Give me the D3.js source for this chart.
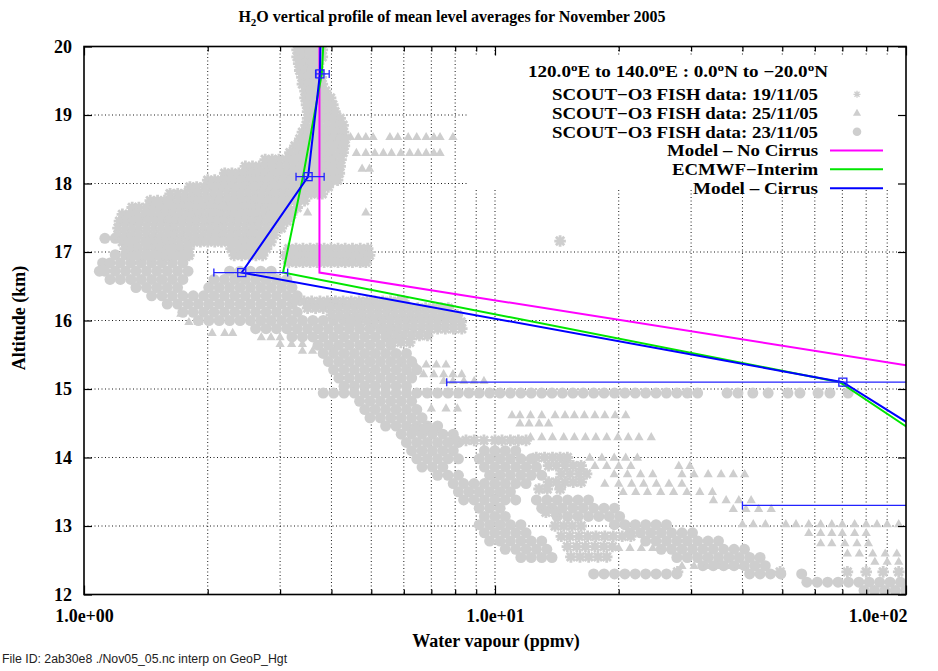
<!DOCTYPE html>
<html><head><meta charset="utf-8">
<script src="https://cdn.jsdelivr.net/npm/d3@7"></script>
<style>body{margin:0;background:#fff}svg{display:block}</style>
</head><body>
<svg id="c" width="938" height="671"></svg>
<script>
// ---------- data ----------
const xMajorTicks = [1, 10, 100];
const xMajorLabels = ["1.0e+00", "1.0e+01", "1.0e+02"];
const xMinorTicks = [2,3,4,5,6,7,8,9,20,30,40,50,60,70,80,90];
const yTicks = [12,13,14,15,16,17,18,19,20];

const levels        = [20, 19.6, 18.1, 16.7, 15.1, 13.3];
const modelNoCirrus = [3.74, 3.74, 3.74, 3.74, 182, null];
const ecmwfInterim  = [3.82, 3.79, 3.41, 3.05, 69, 194];
const modelCirrus   = [3.76, 3.75, 3.51, 2.42, 70.2, 211];
const cirrusErrLo   = [null, 3.66, 3.28, 2.07, 7.63, 40.0];
const cirrusErrHi   = [null, 3.95, 3.84, 3.13, 400, 600];

// FISH data, rows of [altitude km, [water vapour ppmv ...]]
const fish191105 = [
[19.95,[3.3,3.42,3.55,3.68,3.8]],
[19.85,[3.3,3.42,3.55,3.68,3.8]],
[19.75,[3.33,3.45,3.58,3.72]],
[19.65,[3.35,3.47,3.6,3.73]],
[19.55,[3.39,3.52,3.65,3.78]],
[19.45,[3.4,3.53,3.66,3.8]],
[19.35,[3.45,3.58,3.72,3.87]],
[19.25,[3.45,3.58,3.72,3.87,3.98]],
[19.15,[3.48,3.62,3.76,3.91,4.03]],
[19.05,[3.5,3.64,3.78,3.93,4.08]],
[18.95,[3.5,3.64,3.78,3.93,4.08,4.2]],
[18.85,[3.47,3.61,3.75,3.9,4.05,4.2,4.27]],
[18.75,[3.4,3.54,3.68,3.83,3.98,4.14,4.28]],
[18.65,[3.35,3.48,3.62,3.76,3.91,4.06,4.22,4.32]],
[18.55,[3.26,3.39,3.53,3.67,3.82,3.97,4.13,4.3]],
[18.45,[3.17,3.3,3.43,3.57,3.71,3.86,4.01,4.17,4.27]],
[18.35,[2.76,2.87,2.98,3.1,3.22,3.35,3.48,3.62,3.76,3.91,4.06,4.22]],
[18.25,[2.47,2.57,2.67,2.78,2.89,3.0,3.12,3.24,3.37,3.5,3.64,3.78,3.93,4.08,4.2]],
[18.15,[2.2,2.29,2.38,2.47,2.57,2.67,2.78,2.89,3.0,3.12,3.24,3.37,3.5,3.64,3.78,3.93,4.08,4.18]],
[18.05,[2.0,2.08,2.16,2.25,2.34,2.43,2.53,2.63,2.73,2.84,2.95,3.07,3.19,3.32,3.45,3.59,3.73,3.88,4.03,4.14]],
[17.95,[1.81,1.88,1.96,2.04,2.12,2.2,2.29,2.38,2.47,2.57,2.67,2.78,2.89,3.0,3.12,3.24,3.37,3.5,3.64,3.78,3.93]],
[17.85,[1.62,1.69,1.76,1.83,1.9,1.98,2.06,2.14,2.23,2.32,2.41,2.51,2.61,2.71,2.82,2.93,3.05,3.17,3.3,3.43,3.57,3.71,3.8]],
[17.75,[1.45,1.51,1.57,1.63,1.7,1.77,1.84,1.91,1.99,2.07,2.15,2.24,2.33,2.42,2.52,2.62,2.72,2.83,2.94,3.06,3.18,3.3,3.44]],
[17.65,[1.31,1.36,1.42,1.48,1.54,1.6,1.66,1.73,1.8,1.87,1.95,2.03,2.11,2.19,2.28,2.37,2.47,2.57,2.67,2.78,2.89,3.0,3.12,3.3]],
[17.55,[1.24,1.29,1.34,1.4,1.46,1.52,1.58,1.64,1.71,1.78,1.85,1.92,2.0,2.08,2.16,2.25,2.34,2.43,2.53,2.63,2.74,2.85,2.96,3.08,3.2]],
[17.45,[1.22,1.27,1.32,1.37,1.43,1.49,1.55,1.61,1.67,1.74,1.81,1.88,1.96,2.04,2.12,2.2,2.29,2.38,2.48,2.58,2.68,2.79,2.9,3.02,3.12]],
[17.35,[1.21,1.26,1.31,1.36,1.42,1.48,1.54,1.6,1.66,1.73,1.8,1.87,1.95,2.03,2.11,2.19,2.28,2.37,2.47,2.57,2.67,2.78,2.9,3.02]],
[17.25,[1.21,1.26,1.31,1.36,1.42,1.48,1.54,1.6,1.66,1.73,1.8,1.87,1.95,2.03,2.11,2.19,2.28,2.37,2.47,2.57,2.67,2.78,2.9]],
[17.15,[1.24,1.29,1.34,1.4,1.46,1.52,1.58,1.64,1.71,1.78,1.85,1.92,2.0,2.08,2.16,2.25,2.34,2.43,2.53,2.63,2.74,2.85]],
[17.16,[14.4]],
[17.05,[1.26,1.31,1.36,1.42,1.48,1.54,1.6,1.66,1.73,1.8,2.28,2.37,2.47,2.57,2.67,2.78,3.15,3.28,3.41,3.55,3.69,3.84,3.99,4.15,4.32,4.5,4.7,4.9]],
[16.95,[1.3,1.35,1.41,1.47,1.53,1.59,1.65,1.72,1.8,2.32,2.42,2.52,2.62,2.72,3.1,3.23,3.36,3.5,3.64,3.79,3.94,4.1,4.26,4.43,4.6,4.8,4.95]],
[16.85,[3.15,3.28,3.41,3.55,3.69,3.84,3.99,4.15,4.32,4.5,4.7,4.85]],
[16.28,[3.28,3.43,3.58,3.75,3.91,4.09,4.27,4.47,4.67,4.88,5.1,5.33,5.57,5.82,6.0]],
[16.18,[3.5,3.66,3.82,3.99,4.17,4.36,4.56,4.76,4.98,5.2,5.44,5.68,5.94,6.21,6.49,6.78,7.08,7.4,7.7]],
[16.08,[4.0,4.18,4.37,4.57,4.77,4.99,5.21,5.45,5.69,5.95,6.22,6.5,6.79,7.1,7.42,7.75,8.1]],
[15.98,[4.47,4.67,4.88,5.1,5.33,5.57,5.82,6.08,6.35,6.64,6.94,7.25,7.57,7.92,8.27]],
[15.88,[5.33,5.57,5.82,6.08,6.35,6.64,6.94,7.25,7.57,7.92,8.3]],
[15.78,[5.5,5.75,6.0,6.27,6.55,6.85]],
[15.68,[5.6,5.9,6.2]],
[14.42,[6.4,6.75,7.1]],
[14.25,[8.0,8.5,8.9,9.4,10.0,10.4,10.9,11.4,11.9]],
[14.0,[12.6,13.2,13.8,14.4,15.0]],
[13.88,[13.5,14.1,14.8,15.5,16.2]],
[13.76,[14.5,15.2,16.0,16.7]],
[13.64,[13.5,14.1,14.8,15.5,16.2]],
[13.54,[12.8,13.4,14.4]],
[13.2,[13.3,14.0]],
[13.0,[14.0,14.7,15.4,16.2]],
[12.85,[14.5,15.2,16.0,16.8,17.6,18.5,19.4,20.4,21.4]],
[12.7,[15.0,15.8,16.6,17.5,18.4,19.3]],
[12.55,[15.3,16.1,16.9,17.8,18.7]],
[12.33,[27.8,49.4,72,80,88,96]]
];

const fish251105 = [
[18.68,[4.45,4.65,4.85,5.05,5.55,5.8,6.15,6.45,6.8,7.1,7.35,7.9]],
[18.45,[4.6,4.85,5.1,5.35,5.6,5.9,6.2,6.5,6.8,7.1,7.35]],
[18.22,[4.75,4.95]],
[17.58,[3.12,3.5,4.85]],
[16.88,[3.12,3.3,3.5]],
[16.1,[1.72]],
[15.98,[1.8,1.9]],
[15.82,[2.05,2.2,2.3]],
[15.76,[2.7,2.85,3.0]],
[15.66,[3.0,3.2,3.4]],
[15.56,[3.4,3.6,3.8,4.05]],
[15.36,[6.0,6.4,6.8,7.2,7.6]],
[15.22,[6.3,6.7,7.1,7.5,7.9,8.3]],
[15.12,[7.5,7.9,8.4,8.9,9.4]],
[14.72,[6.4,7.0,7.6,8.1]],
[14.62,[11.0,11.5,12.2,13.0,14.0,14.8,15.6,16.5,17.5,18.5,19.6,20.8]],
[14.5,[11.5,12.1,12.8,13.5]],
[14.3,[12.2,13.0,13.8,14.7,15.6,16.6,17.6,18.7,19.9,21.1,22.4,24]],
[14.0,[17,18.2,19.5,20.8,22.2]],
[13.88,[17.5,18.7,20.0,21.4,28.0,29.8]],
[13.76,[19.5,21,22.6,24.2,28.5,30.5,33,35.5,38,40.5]],
[13.62,[18.5,20,21.5,23,24.7,26.5,28.5]],
[13.5,[20.5,22,23.5,25.3,27.2,29.3,31.5,33.8]],
[13.38,[34,36.5,39.2,42]],
[13.25,[38,40.8,43.8,47]],
[13.03,[40,42.5,45.5,51,54,58,62,66,70,75,80,85,90,96]],
[12.9,[58,62,66,70,75,80]],
[12.75,[62,66,71,76,81]],
[12.68,[20,21.3,22.7,24.2,25.7]],
[12.6,[72,77,83,89,95]],
[12.48,[84,90,96]],
[12.42,[28.5,30.5,32.7,35,37.5,40]]
];

const fish231105 = [
[17.2,[1.124,1.191]],
[16.96,[1.191,1.262,1.338,1.419,1.504,1.594,1.689,1.791]],
[16.84,[1.11,1.157,1.226,1.3,1.378,1.461,1.548,1.641,1.74]],
[16.72,[1.09,1.124,1.191,1.262,1.338,1.419,1.504,1.594,1.689,1.791,2.261,2.397,2.54,2.693,2.854]],
[16.6,[1.157,1.226,1.3,1.378,1.461,1.548,1.641,1.74,2.072,2.196,2.328,2.468,2.616,2.773,2.939,3.115]],
[16.48,[1.338,1.419,1.504,1.594,1.689,2.012,2.133,2.261,2.397,2.54,2.693,2.854,3.026,3.207]],
[16.36,[1.461,1.548,1.641,1.74,1.844,1.955,2.072,2.196,2.328,2.468,2.616,2.773,2.939,3.115,3.302]],
[16.24,[1.594,1.689,1.791,1.898,2.012,2.133,2.261,2.397,2.54,2.693,2.854,3.026,3.207]],
[16.12,[1.74,1.844,1.955,2.072,2.196,2.328,2.468,2.616,2.773,2.939,3.115,3.302]],
[16.0,[1.898,2.012,2.133,2.261,2.397,2.54,2.693,2.854,3.026,3.207,3.4,3.604,3.82,4.049,4.292,4.549]],
[15.88,[2.616,2.773,2.939,3.115,3.302,3.5,3.71,3.933,4.169,4.419,4.684,4.965,5.263,5.579]],
[15.76,[3.207,3.4,3.604,3.82,4.049,4.292,4.549,4.822,5.112,5.418]],
[15.64,[3.71,3.933,4.169,4.419,4.684,4.965,5.263,5.579]],
[15.52,[3.82,4.049,4.292,4.549,4.822,5.112,5.418,5.743,6.088]],
[15.4,[3.933,4.169,4.419,4.684,4.965,5.263,5.579,5.914,6.268]],
[15.28,[4.049,4.292,4.549,4.822,5.112,5.418,5.743,6.088,6.453]],
[15.16,[4.169,4.419,4.684,4.965,5.263,5.579,5.914,6.268]],
[15.04,[4.292,4.549,4.822,5.112,5.418,5.743,6.088]],
[14.94,[3.82,4.049,4.292,4.549,4.822,5.112,5.418,5.743,6.088,6.453,6.841,7.251,7.686,8.147,8.636,9.154,9.704,10.29,10.9,11.56,12.25,12.99,13.76,14.59,15.47,16.39,17.38,18.42,19.53,20.7,21.94,23.26,24.65,26.13,27.7,29.36,31.12,36.7,39.0,42.4,46.2,51.6,55.2,61.1,65.3,72.3]],
[14.82,[4.684,4.965,5.263,5.579,5.914,6.268]],
[14.7,[4.822,5.112,5.418,5.743,6.088,6.453]],
[14.58,[4.965,5.263,5.579,5.914,6.268,6.645]],
[14.46,[5.418,5.743,6.088,6.453,6.841,7.251]],
[14.34,[5.914,6.268,6.645,7.043,7.466,7.914]],
[14.22,[6.088,6.453,6.841,7.251,7.686,8.147]],
[14.1,[6.268,6.645,7.043,7.466,7.914,9.425,9.991,10.59,11.23]],
[13.98,[6.453,6.841,7.251,7.686,8.147,9.154,9.704,10.29,10.9,11.56,12.25]],
[13.86,[6.645,7.043,7.466,9.425,9.991,10.59,11.23,11.9,12.61]],
[13.74,[7.251,7.686,8.147,9.704,10.29,10.9,11.56,12.25,12.99]],
[13.62,[7.914,8.389,8.892,9.425,9.991,10.59,11.23,11.9]],
[13.5,[8.147,8.636,9.154,9.704,10.29,10.9]],
[13.38,[8.389,8.892,9.425,9.991,10.59,11.23,12.61,13.37,14.17,15.02,15.92,16.88]],
[13.26,[9.154,9.704,10.29,12.99,13.76,14.59,15.47,16.39,17.38,18.42,19.53]],
[13.14,[9.425,9.991,10.59,14.17,15.02,15.92,16.88,17.89,18.97,20.1]],
[13.02,[9.154,9.704,10.29,10.9,11.56,19.53,20.7,21.94,23.26,24.65,26.13]],
[12.9,[9.425,9.991,10.59,11.23,11.9,21.31,22.59,23.94,25.38,26.9,28.52,30.23]],
[12.78,[9.704,10.29,10.9,11.56,12.25,12.99,23.26,24.65,26.13,27.7,29.36,31.12,32.99,34.97]],
[12.66,[10.59,11.23,11.9,12.61,13.37,25.38,26.9,28.52,30.23,32.04,33.96,36.0,38.16,40.45]],
[12.54,[11.56,12.25,12.99,13.76,27.7,29.36,31.12,32.99,34.97,37.07,39.29,41.65,44.15]],
[12.42,[32.04,33.96,36.0,38.16,40.45,42.88,45.45]],
[12.3,[17.38,18.42,19.53,20.7,21.94,23.26,24.65,26.13,27.7,41.65,44.15,46.8,49.6,55.74]],
[12.18,[57.38,60.82,64.47,68.34,72.44,76.79,81.39,86.28,91.45,96.94]],
[12.06,[79.06,83.8,88.83,94.16,99.81]]
];

const legendTitle = ["120.0", "o", "E to 140.0", "o", "E : 0.0", "o", "N to \u221220.0", "o", "N"];
const seriesNames = ["SCOUT\u2212O3 FISH data: 19/11/05", "SCOUT\u2212O3 FISH data: 25/11/05", "SCOUT\u2212O3 FISH data: 23/11/05",
                     "Model \u2013 No Cirrus", "ECMWF\u2212Interim", "Model \u2013 Cirrus"];
const seriesNameWidths = [266, 266, 266, 151, 146, 125];

// ---------- drawing ----------
const svg = d3.select("#c");
const L = 84, R = 906, T = 46.5, B = 594.5;
const x = d3.scaleLog().domain([1, 100]).range([L, R]);
const y = d3.scaleLinear().domain([12, 20]).range([B, T]);
const GREY = "#cecece", BLUE = "#0000ff", GREEN = "#00e600", MAG = "#ff00ff";
const serif = "'Liberation Serif','Times New Roman',serif";

svg.append("defs").append("clipPath").attr("id", "clip")
  .append("rect").attr("x", L).attr("y", T).attr("width", R - L).attr("height", B - T);

// grid
const grid = svg.append("g").attr("stroke", "#000").attr("stroke-width", 0.9).attr("stroke-dasharray", "1,2.5");
grid.selectAll("line.v").data(xMinorTicks.concat([10])).join("line")
  .attr("x1", d => x(d)).attr("x2", d => x(d)).attr("y1", T).attr("y2", B);
grid.selectAll("line.h").data(yTicks.filter(d => d > 12 && d < 20)).join("line")
  .attr("x1", L).attr("x2", R).attr("y1", d => y(d)).attr("y2", d => y(d));

const flat = rows => rows.flatMap(([km, vals]) => vals.map(v => [v, km]));
const plot = svg.append("g").attr("clip-path", "url(#clip)");

function starPath(r) {
  const d = r * 0.72;
  return `M${-r},0L${r},0M0,${-r}L0,${r}M${-d},${-d}L${d},${d}M${-d},${d}L${d},${-d}`;
}
function triPath(s) { return `M0,${-s * 0.62}L${s * 0.58},${s * 0.4}L${-s * 0.58},${s * 0.4}Z`; }

plot.append("g").selectAll("circle").data(flat(fish231105)).join("circle")
  .attr("cx", d => x(d[0])).attr("cy", d => y(d[1])).attr("r", 5.5).attr("fill", GREY);
plot.append("g").selectAll("path").data(flat(fish251105)).join("path")
  .attr("transform", d => `translate(${x(d[0])},${y(d[1])})`).attr("d", triPath(8)).attr("fill", GREY);
plot.append("g").selectAll("path").data(flat(fish191105)).join("path")
  .attr("transform", d => `translate(${x(d[0])},${y(d[1])})`).attr("d", starPath(5.8))
  .attr("stroke", GREY).attr("stroke-width", 2.8).attr("fill", "none");

// model lines
const mk = arr => levels.map((l, i) => [arr[i], l]);
const line = d3.line().defined(d => d[0] != null).x(d => x(d[0])).y(d => y(d[1]));
plot.append("path").datum(mk(modelNoCirrus)).attr("d", line).attr("fill", "none").attr("stroke", MAG).attr("stroke-width", 2);
plot.append("path").datum(mk(ecmwfInterim)).attr("d", line).attr("fill", "none").attr("stroke", GREEN).attr("stroke-width", 2);
plot.append("path").datum(mk(modelCirrus)).attr("d", line).attr("fill", "none").attr("stroke", BLUE).attr("stroke-width", 2);

// error bars + squares
const eb = levels.map((l, i) => ({l, v: modelCirrus[i], lo: cirrusErrLo[i], hi: cirrusErrHi[i]})).filter(d => d.lo != null);
const ebg = plot.append("g").attr("stroke", "#2222ff").attr("stroke-width", 1.3).attr("fill", "none");
ebg.selectAll("line.b").data(eb).join("line").attr("x1", d => x(d.lo)).attr("x2", d => x(d.hi)).attr("y1", d => y(d.l)).attr("y2", d => y(d.l));
ebg.selectAll("line.lc").data(eb).join("line").attr("x1", d => x(d.lo)).attr("x2", d => x(d.lo)).attr("y1", d => y(d.l) - 4).attr("y2", d => y(d.l) + 4);
ebg.selectAll("line.hc").data(eb).join("line").attr("x1", d => x(d.hi)).attr("x2", d => x(d.hi)).attr("y1", d => y(d.l) - 4).attr("y2", d => y(d.l) + 4);
ebg.selectAll("rect").data(eb).join("rect").attr("x", d => x(d.v) - 4).attr("y", d => y(d.l) - 4).attr("width", 8).attr("height", 8);

// legend (opaque key)
svg.append("rect").attr("x", 467).attr("y", 55).attr("width", R - 467).attr("height", 134).attr("fill", "#fff");
const LF = 16;
const lg = svg.append("g").attr("font-family", serif).attr("font-weight", "bold").attr("font-size", LF).attr("fill", "#000");
const t0 = lg.append("text").attr("x", 828).attr("y", 77).attr("text-anchor", "end")
  .attr("textLength", 300).attr("lengthAdjust", "spacingAndGlyphs");
legendTitle.forEach((s, i) => {
  const sup = s === "o";
  t0.append("tspan").text(s).attr("font-size", sup ? 11 : LF).attr("dy", sup ? -6 : (i > 0 ? 6 : 0));
});
const rowsY = [94.3, 113, 131.8, 150.5, 169.3, 188.2];
seriesNames.forEach((s, i) => {
  lg.append("text").attr("x", 818).attr("y", rowsY[i] + 5.8).attr("text-anchor", "end")
    .attr("textLength", seriesNameWidths[i]).attr("lengthAdjust", "spacingAndGlyphs").text(s);
});
lg.append("path").attr("transform", `translate(857,${rowsY[0]})`).attr("d", starPath(3.5)).attr("stroke", GREY).attr("stroke-width", 1.3).attr("fill", "none");
lg.append("path").attr("transform", `translate(857,${rowsY[1]})`).attr("d", triPath(7)).attr("fill", GREY);
lg.append("circle").attr("cx", 857).attr("cy", rowsY[2]).attr("r", 4.3).attr("fill", GREY);
[[MAG, 3], [GREEN, 4], [BLUE, 5]].forEach(([c, i]) => {
  lg.append("line").attr("x1", 830).attr("x2", 883).attr("y1", rowsY[i]).attr("y2", rowsY[i]).attr("stroke", c).attr("stroke-width", 2);
});

// axes (ticks inward)
const TF = 18;
const ax = svg.append("g").attr("font-family", serif).attr("font-weight", "bold").attr("font-size", TF);
function styleAxis(g) { g.select(".domain").remove(); g.selectAll("line").attr("stroke", "#000").attr("stroke-width", 1.2); }
ax.append("g").attr("transform", `translate(0,${B})`).call(d3.axisBottom(x).tickValues(xMinorTicks).tickSize(-5).tickFormat("")).call(styleAxis);
ax.append("g").attr("transform", `translate(0,${T})`).call(d3.axisTop(x).tickValues(xMinorTicks).tickSize(-5).tickFormat("")).call(styleAxis);
ax.append("g").attr("transform", `translate(0,${T})`).call(d3.axisTop(x).tickValues(xMajorTicks).tickSize(-9).tickFormat("")).call(styleAxis);
const bx = ax.append("g").attr("transform", `translate(0,${B})`)
  .call(d3.axisBottom(x).tickValues(xMajorTicks).tickSize(-9).tickPadding(15).tickFormat((d, i) => xMajorLabels[i])).call(styleAxis);
bx.selectAll("text").attr("fill", "#000").attr("font-size", TF).attr("font-family", serif);
bx.selectAll("text").filter((d, i) => i === 2).attr("text-anchor", "end").attr("dx", 1);
const ly = ax.append("g").attr("transform", `translate(${L},0)`)
  .call(d3.axisLeft(y).tickValues(yTicks).tickSize(-8).tickPadding(12).tickFormat(d3.format("d"))).call(styleAxis);
ly.selectAll("text").attr("fill", "#000").attr("font-size", TF).attr("font-family", serif);
ax.append("g").attr("transform", `translate(${R},0)`).call(d3.axisRight(y).tickValues(yTicks).tickSize(-8).tickFormat("")).call(styleAxis);
svg.append("rect").attr("x", L).attr("y", T).attr("width", R - L).attr("height", B - T)
  .attr("fill", "none").attr("stroke", "#000").attr("stroke-width", 1.6);

// titles
const title = svg.append("text").attr("x", 452).attr("y", 22).attr("text-anchor", "middle")
  .attr("font-family", serif).attr("font-weight", "bold").attr("font-size", 16);
title.append("tspan").text("H");
title.append("tspan").text("2").attr("font-size", 11).attr("dy", 4);
title.append("tspan").text("O vertical profile of mean level averages for November 2005").attr("dy", -4);

svg.append("text").attr("x", 496).attr("y", 647).attr("text-anchor", "middle")
  .attr("font-family", serif).attr("font-weight", "bold").attr("font-size", 18).text("Water vapour (ppmv)");
svg.append("text").attr("transform", "translate(25,318) rotate(-90)").attr("text-anchor", "middle")
  .attr("font-family", serif).attr("font-weight", "bold").attr("font-size", 18).text("Altitude (km)");
svg.append("text").attr("x", 2).attr("y", 663).attr("font-family", "'Liberation Sans',Arial,sans-serif")
  .attr("font-size", 12.3).attr("fill", "#222").text("File ID: 2ab30e8 ./Nov05_05.nc interp on GeoP_Hgt");
</script>
</body></html>
